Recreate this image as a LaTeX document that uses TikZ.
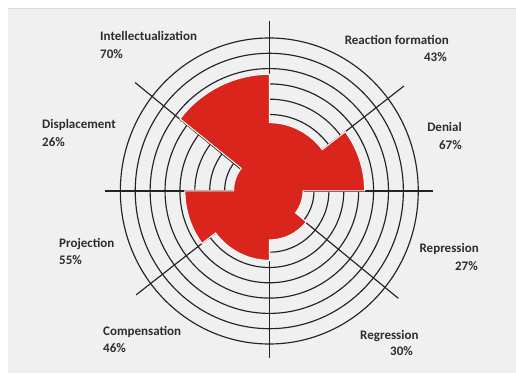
\documentclass[tikz,border=0pt]{standalone}
\usepackage{fontspec}
\setmainfont{Carlito}
\definecolor{panel}{RGB}{240,240,240}
\definecolor{wedgered}{RGB}{218,37,28}
\definecolor{ink}{RGB}{35,35,35}
\definecolor{labelc}{RGB}{45,45,45}
\begin{document}
\begin{tikzpicture}[x=1pt,y=1pt,
  axisline/.style={draw=ink, line width=1.15pt},
  ring/.style={draw=ink, line width=1.15pt},
  lbl/.style={font=\bfseries\fontsize{13}{15}\selectfont, text=labelc, inner sep=0pt}]
\useasboundingbox (0,0) rectangle (516,382);
\fill[white] (0,0) rectangle (516,382);
\fill[panel] (8,9) rectangle (516,374);
\draw[gray!30, line width=0.6pt] (8,374) -- (516,374);
\begin{scope}[shift={(269.3,191)}, xscale=0.993, yscale=1.02]
  \foreach \r in {45,60,...,150} \draw[ring] (0,0) circle[radius=\r];
  \draw[axisline] (0,166.7) -- (0,-163.7);
  \draw[axisline] (-165.2,0) -- (165.2,0);
  \draw[axisline] (37.2:170.2) -- (217.2:168.4);
  \draw[axisline] (141.8:171.9) -- (321:167.2);
  \filldraw[fill=wedgered, draw=white, line width=1pt]
    (0:96) arc[start angle=0, end angle=37.2, radius=96]
    -- (37.2:67) arc[start angle=37.2, end angle=90, radius=67]
    -- (90:114.4) arc[start angle=90, end angle=141.8, radius=114.4]
    -- (141.8:36) arc[start angle=141.8, end angle=180, radius=36]
    -- (180:85) arc[start angle=180, end angle=217.2, radius=85]
    -- (217.2:68) arc[start angle=217.2, end angle=270, radius=68]
    -- (270:48) arc[start angle=270, end angle=321, radius=48]
    -- (321:34) arc[start angle=321, end angle=360, radius=34]
    -- cycle;
\end{scope}
\node[lbl, anchor=base west] (intel)  at (100,341.3) {Intellectualization};
\node[lbl, anchor=base west] (intelp) at (100,323.3) {70\%};
\node[lbl, anchor=base east] (react)  at (449,337.6) {Reaction formation};
\node[lbl, anchor=base east] (reactp) at (447,320.0) {43\%};
\node[lbl, anchor=base east] (denial)  at (462,250.6) {Denial};
\node[lbl, anchor=base east] (denialp) at (462,232.6) {67\%};
\node[lbl, anchor=base east] (repr)  at (479,129.2) {Repression};
\node[lbl, anchor=base east] (reprp) at (478,111.5) {27\%};
\node[lbl, anchor=base west] (regr)  at (360,42.8) {Regression};
\node[lbl, anchor=base west] (regrp) at (390,26.2) {30\%};
\node[lbl, anchor=base west] (comp)  at (103,46.8) {Compensation};
\node[lbl, anchor=base west] (compp) at (103,29.2) {46\%};
\node[lbl, anchor=base west] (proj)  at (59,134.8) {Projection};
\node[lbl, anchor=base west] (projp) at (59,117.2) {55\%};
\node[lbl, anchor=base west] (displ)  at (42,253.2) {Displacement};
\node[lbl, anchor=base west] (displp) at (42,235.8) {26\%};
\end{tikzpicture}
\end{document}
